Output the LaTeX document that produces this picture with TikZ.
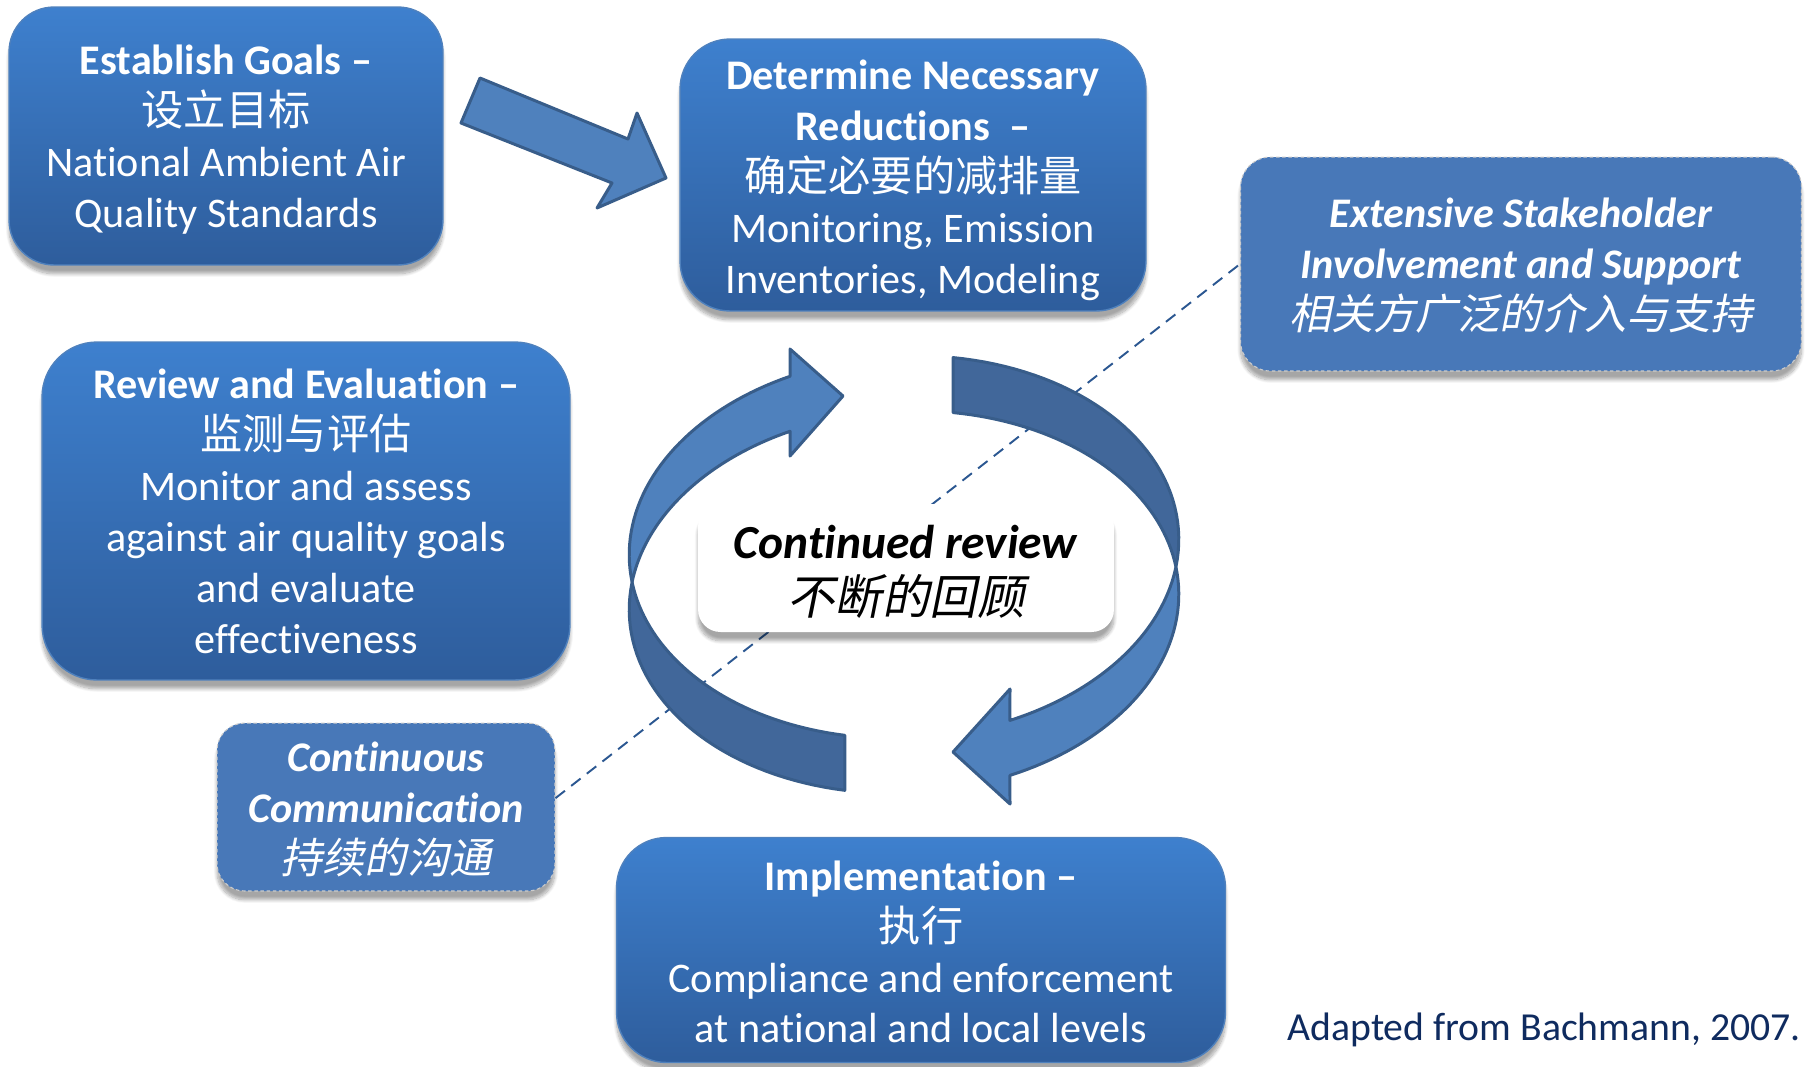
\documentclass[tikz,border=0pt]{standalone}
\usepackage{fontspec}
\setmainfont{Carlito}[Ligatures=NoCommon]
\newfontfamily\zh{Noto Sans CJK SC}
\newfontfamily\zhit{Noto Sans CJK SC}[FakeSlant=0.2]
\usepackage{tikz}
\usetikzlibrary{shadows.blur}
\definecolor{boxtop}{HTML}{3E80CE}
\definecolor{boxbot}{HTML}{2E5D9C}
\definecolor{boxline}{HTML}{4F81BD}
\definecolor{flat}{HTML}{4878B8}
\definecolor{light}{HTML}{4F81BD}
\definecolor{dark}{HTML}{41679A}
\definecolor{edge}{HTML}{385D8A}
\definecolor{navy}{HTML}{0F2B5F}
\definecolor{dashc}{HTML}{2B5791}
\newcommand{\boxfont}{\fontsize{24}{29}\selectfont}
\newcommand{\reviewfont}{\fontsize{27}{32}\selectfont}
\newcommand{\lift}[1]{\rule{0pt}{#1}}
\tikzset{
    soft/.style={blur shadow={shadow xshift=0pt, shadow yshift=-5pt, shadow opacity=35, shadow blur steps=10}},
    stage/.style={soft, draw=boxline, line width=0.8pt, top color=boxtop, bottom color=boxbot,
        text=white, align=center, inner sep=0pt, font=\boxfont},
    note/.style={soft, draw=white!80!black, dash pattern=on 2pt off 1.5pt, line width=0.6pt,
        fill=flat, text=white, align=center, inner sep=0pt, font=\boxfont},
    centre/.style={soft, fill=white, text=black, align=center, inner sep=0pt, font=\reviewfont},
    ring/.style={draw=edge, line width=1.7pt, line join=round, samples=40},
    link/.style={draw=dashc, line width=1.1pt, dash pattern=on 6.8pt off 4.5pt}
}

\begin{document}
\begin{tikzpicture}[x=0.02cm, y=-0.02cm]
        \useasboundingbox (0,0) rectangle (1808,1066);

        \node[stage, minimum width=8.68cm, minimum height=5.16cm, rounded corners=0.9cm] (goals) at (226,136)
            {\lift{21pt}\textbf{Establish Goals –}\\{\zh 设立目标}\\National Ambient Air\\Quality Standards};
        \node[stage, minimum width=9.32cm, minimum height=5.44cm, rounded corners=1cm] (need) at (913,175)
            {\lift{23pt}\textbf{Determine Necessary}\\\textbf{Reductions~ –}\\{\zh 确定必要的减排量}\\Monitoring, Emission\\Inventories, Modeling};
        \node[note, minimum width=11.22cm, minimum height=4.28cm, rounded corners=0.6cm] (stake) at (1521,264)
            {\lift{19pt}\textbf{\textit{Extensive Stakeholder}}\\\textbf{\textit{Involvement and Support}}\\{\zhit 相关方广泛的介入与支持}};
        \node[stage, minimum width=10.56cm, minimum height=6.76cm, rounded corners=1.1cm] (review) at (306,511)
            {\textbf{Review and Evaluation –}\\{\zh 监测与评估}\\Monitor and assess\\against air quality goals\\and evaluate\\effectiveness};
        \node[note, minimum width=6.76cm, minimum height=3.36cm, rounded corners=0.55cm] (comm) at (386,807)
            {\lift{20pt}\textbf{\textit{Continuous}}\\\textbf{\textit{Communication}}\\{\zhit 持续的沟通}};
        \node[stage, minimum width=12.18cm, minimum height=4.5cm, rounded corners=1cm] (impl) at (921,950)
            {\lift{19pt}\textbf{Implementation –}\\{\zh 执行}\\Compliance and enforcement\\at national and local levels};
        \node[text=navy, font=\fontsize{22.6}{27}\selectfont, anchor=east, inner sep=0pt] (credit) at (1801,1030)
            {Adapted from Bachmann, 2007.};

        \filldraw[ring, fill=light] (480,78) -- (628,139) -- (637,113) -- (666,178) -- (597,208) -- (612,183) -- (461,123) -- cycle;

        \draw[link] (comm.3) -- (stake.west);

        \filldraw[ring, fill=light] plot[domain=173.88:247.65] ({904+274.6*cos(\x)+10.33*sin(\x)}, {547-14.87*cos(\x)+190.72*sin(\x)})
            -- (790,349) -- (843,396) -- (790,456)
            -- plot[domain=247.65:190.42] ({904+274.6*cos(\x)+10.33*sin(\x)}, {602-14.87*cos(\x)+190.72*sin(\x)}) -- cycle;
        \filldraw[ring, fill=dark] plot[domain=282.45:370.42] ({904+274.6*cos(\x)+10.33*sin(\x)}, {547-14.87*cos(\x)+190.72*sin(\x)})
            -- plot[domain=353.88:282.45] ({904+274.6*cos(\x)+10.33*sin(\x)}, {602-14.87*cos(\x)+190.72*sin(\x)}) -- cycle;
        \filldraw[ring, fill=light] plot[domain=-6.12:69.48] ({904+274.6*cos(\x)+10.33*sin(\x)}, {602-14.87*cos(\x)+190.72*sin(\x)})
            -- (1010,804) -- (953,752) -- (1010,689)
            -- plot[domain=69.48:10.42] ({904+274.6*cos(\x)+10.33*sin(\x)}, {547-14.87*cos(\x)+190.72*sin(\x)}) -- cycle;
        \filldraw[ring, fill=dark] plot[domain=104.6:190.42] ({904+274.6*cos(\x)+10.33*sin(\x)}, {602-14.87*cos(\x)+190.72*sin(\x)})
            -- plot[domain=173.88:104.6] ({904+274.6*cos(\x)+10.33*sin(\x)}, {547-14.87*cos(\x)+190.72*sin(\x)}) -- cycle;

        \node[centre, minimum width=8.32cm, minimum height=2.56cm, rounded corners=0.45cm] (cont) at (906,568)
            {\lift{23pt}\textbf{\textit{Continued review}}\\{\zhit 不断的回顾}};
\end{tikzpicture}
\end{document}
